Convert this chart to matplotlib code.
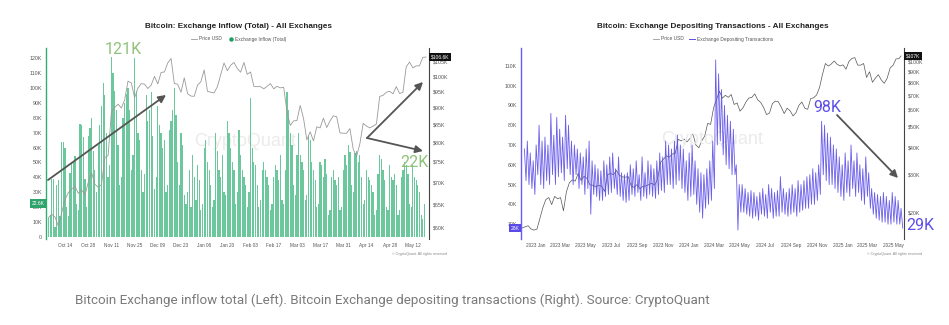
#!/usr/bin/env python3

# two CryptoQuant style panels: exchange inflow (left) and depositing tx (right)

import matplotlib.pyplot as plt
import matplotlib.ticker as mticker
import matplotlib.dates as mdates
import matplotlib.transforms as mtrans
from matplotlib.lines import Line2D
from matplotlib.patches import FancyArrowPatch
import pandas as pd

W, H = 949, 325

# left chart: daily exchange inflow (K BTC) starting 2024-10-04
inflow = [13, 15, 39, 39, 7, 35, 38, 14, 64, 64, 60, 20, 14, 43, 50, 50, 54, 22, 18, 76, 75, 67, 39, 20, 68,
          73, 80, 58, 45, 30, 62, 75,
          88, 103, 95, 70, 40, 48, 121,
          110, 98, 85, 62, 35, 40, 80,
          90, 96, 100, 85, 45, 55, 120,
          98, 70, 65, 45, 30, 42, 95,
          78, 85, 97, 68, 32, 40, 88,
          75, 70, 60, 65, 30, 35, 72,
          78, 85, 100, 82, 50, 35, 70,
          62, 28, 22, 30, 45, 20, 55,
          40, 25, 48, 38, 18, 22, 60,
          65, 50, 45, 35, 20, 25, 70,
          58, 45, 40, 55, 30, 28, 78,
          70, 60, 50, 45, 22, 30, 72,
          55, 45, 40, 35, 20, 30, 93,
          60, 50, 48, 35, 20, 25, 45,
          50, 45, 40, 35, 18, 22, 40,
          48, 45, 38, 55, 25, 22, 45,
          97, 85, 70, 62, 35, 28, 55,
          70, 55, 50, 45, 25, 28, 68,
          65, 50, 45, 38, 20, 22, 50,
          48, 40, 52, 42, 15, 18, 40,
          45, 38, 35, 40, 18, 20, 45,
          55, 48, 62, 57, 35, 30, 56,
          58, 50, 55, 40, 22, 25, 45,
          40, 38, 35, 30, 15, 18, 42,
          55, 52, 45, 38, 20, 18, 48,
          40, 38, 42, 35, 15, 18, 40,
          45, 50, 48, 42, 22, 20, 48,
          40, 38, 35, 30, 15, 12, 22]

# BTC price (K USD) every 2 days from 2024-10-04
price_left = [62.1, 62.8, 62.2, 60.3, 63.2, 66.0, 67.6, 68.4, 69.0, 67.4, 68.2, 67.0, 69.9, 72.3,
              69.5, 68.8, 69.4, 76.0, 76.5, 88.7, 90.0, 91.0, 89.8, 92.3, 98.3, 97.7, 93.0, 96.0, 97.5,
              97.3, 95.9, 97.0, 99.9, 97.4, 101.2, 101.4, 104.5, 106.1, 97.5, 97.3, 94.7, 99.4, 94.2, 93.5, 93.4,
              97.0, 98.1, 102.1, 95.0, 94.7, 94.5, 96.5, 100.5, 104.5, 101.8, 103.7, 104.7, 102.6, 101.3, 104.7,
              100.6, 101.4, 96.6, 96.5, 96.5, 95.8, 96.6, 97.5, 95.8, 96.6, 96.1, 96.3, 88.7, 84.7,
              86.0, 86.1, 90.6, 86.7, 80.7, 82.9, 80.4, 84.3, 84.0, 86.8, 84.1, 86.0, 87.5, 87.2, 82.6, 82.5,
              82.5, 83.8, 78.2, 76.3, 79.6, 85.3, 84.5, 84.0, 84.5, 85.1, 93.4, 93.7, 94.7, 95.0, 94.2,
              96.5, 94.3, 94.7, 103.2, 104.8, 102.8, 103.5, 103.5, 106.5, 106.6]

# right chart: depositing transactions (K), weekday peak / weekend low, weeks from 2022-12-04
tx_high = [68, 72, 66, 62,
           70, 80, 72, 74, 70, 86, 75, 84, 78, 74, 85, 80, 72,
           70, 68, 66, 64, 68, 72, 62, 60, 58, 57, 62, 60, 64,
           66, 58, 64, 56, 55, 56, 60, 58, 62, 55, 64, 56, 62,
           60, 58, 62, 66, 64, 72, 70, 68, 72, 75, 70, 68, 62, 66,
           70, 62, 58, 56, 55, 58, 62, 72, 113, 106, 98, 90, 85,
           82, 78, 60, 50, 50, 48, 46, 47, 46, 44, 46, 48, 45,
           50, 48, 46, 47, 54, 48, 46, 48, 50, 48, 52, 50, 52,
           54, 55, 58, 56, 60, 82, 80, 76, 74, 70, 68, 64, 60,
           66, 62, 70, 62, 66, 60, 58, 64, 56, 48, 46, 45, 44,
           46, 44, 42, 46, 44, 42, 38]
tx_low = [52, 50, 48, 45,
          55, 50, 48, 52, 50, 55, 50, 54, 56, 52, 58, 55, 50,
          55, 48, 50, 45, 48, 35, 45, 44, 42, 42, 44, 45, 46,
          48, 45, 44, 42, 41, 42, 45, 44, 46, 42, 44, 43, 45,
          44, 43, 45, 47, 46, 50, 50, 48, 50, 52, 48, 46, 42, 44,
          45, 40, 36, 33, 38, 40, 42, 48, 70, 72, 65, 60, 58,
          55, 55, 27, 36, 36, 35, 34, 33, 34, 32, 35, 34, 33,
          36, 33, 34, 34, 36, 35, 34, 35, 36, 34, 36, 37, 38,
          38, 40, 40, 42, 45, 55, 52, 50, 50, 48, 46, 44, 42,
          46, 44, 48, 44, 46, 42, 40, 44, 38, 35, 33, 32, 31,
          31, 30, 30, 31, 30, 30, 28]

# weekly BTC price (K USD) from 2022-12-01
price_right = [17.0, 17.2, 17.4, 16.8, 16.6,
               16.8, 18.8, 21.1, 23.0, 23.5, 21.8, 23.8, 23.2, 23.5, 20.4, 25.0, 27.5, 28.4,
               28.0, 30.4, 28.2, 29.5, 28.8, 26.9, 26.8, 26.4, 26.8, 26.5, 25.1, 30.0, 30.4,
               30.0, 31.4, 29.8, 29.3, 29.2, 29.4, 26.6, 26.2, 27.0, 25.8, 26.5, 26.6, 27.0,
               27.4, 26.8, 28.7, 34.2, 35.4, 36.7, 36.2, 37.4, 37.7, 43.8, 43.0, 43.9, 42.6,
               44.2, 46.3, 41.2, 40.0, 43.1, 45.3, 51.9, 51.3, 61.2, 66.9, 73.1, 67.9, 70.0,
               68.5, 70.6, 63.5, 64.5, 59.1, 61.2, 65.2, 68.0, 68.4, 71.1, 66.7, 64.9, 61.6,
               57.0, 57.9, 64.1, 65.8, 65.4, 61.7, 57.6, 61.0, 59.4, 56.2, 58.1, 62.9, 65.2,
               61.0, 60.3, 67.6, 68.2, 70.2, 76.0, 87.3, 98.3, 95.6, 97.8, 101.0, 97.5, 95.8,
               96.9, 92.5, 100.5, 103.7, 104.7, 96.6, 96.6, 98.3, 84.7, 90.0, 80.4, 84.1, 87.2,
               82.5, 79.6, 84.0, 93.7, 96.5, 103.2, 103.5]
price_right_last = 106.6

caption = ("Bitcoin Exchange inflow total (Left). Bitcoin Exchange depositing transactions (Right). "
           "Source: CryptoQuant")

plt.rcParams['font.family'] = ['Liberation Sans', 'DejaVu Sans']

GREEN = '#6cc79d'
PURPLE = '#5b4de8'
TICK = '#555555'


def box(l, t, r, b):
    return [l / W, 1 - b / H, (r - l) / W, (b - t) / H]


def fp(px, py):
    return (px / W, 1 - py / H)


def style(ax, axp, left_color):
    for s in ['top', 'bottom', 'right']:
        ax.spines[s].set_visible(False)
    ax.spines['left'].set_color(left_color)
    ax.spines['left'].set_linewidth(1.0)
    for s in ['top', 'bottom', 'left']:
        axp.spines[s].set_visible(False)
    axp.spines['right'].set_color('#444444')
    axp.spines['right'].set_linewidth(0.8)
    ax.tick_params(axis='y', length=0, labelsize=3.8, labelcolor=TICK, pad=3)
    ax.tick_params(axis='x', length=0, labelsize=3.4, labelcolor=TICK, pad=3)
    axp.tick_params(length=0, labelsize=3.8, labelcolor=TICK, pad=3, which='both')
    axp.yaxis.set_minor_locator(mticker.NullLocator())


def kfmt(v, pos):
    return '0' if v == 0 else f'{int(v)}K'


def dfmt(v, pos):
    return f'${int(v)}K'


fig = plt.figure(figsize=(W / 100, H / 100), dpi=100)

# ---------------- left panel
ax1 = fig.add_axes(box(46, 48, 429, 239))
in_dates = pd.date_range('2024-10-04', periods=len(inflow), freq='D')
ax1.bar(in_dates, inflow, width=0.75, color=GREEN, zorder=2)
ax1.set_ylim(-1.3, 126.7)
ax1.set_xlim(pd.Timestamp('2024-10-02 12:00'), pd.Timestamp('2025-05-21 18:00'))
ax1.set_yticks(range(0, 121, 10))
ax1.yaxis.set_major_formatter(mticker.FuncFormatter(kfmt))
ax1.set_xticks(pd.date_range('2024-10-14', '2025-05-12', freq='14D'))
ax1.xaxis.set_major_formatter(mdates.DateFormatter('%b %d'))
ax1.text(0.52, 0.51, 'CryptoQuant', transform=ax1.transAxes, fontsize=13, color='#ebebeb',
         ha='center', va='center', zorder=1)

ax1p = ax1.twinx()
p_dates = pd.date_range('2024-10-04', periods=len(price_left), freq='2D')
ax1p.plot(p_dates, price_left, color='#9a9a9a', lw=0.6)
ax1p.set_yscale('log')
ax1p.set_ylim(57.8, 109.9)
ax1p.set_yticks(range(60, 106, 5))
ax1p.yaxis.set_major_formatter(mticker.FuncFormatter(dfmt))
style(ax1, ax1p, '#2fae73')

tr = mtrans.blended_transform_factory(ax1.transAxes, ax1.transData)
ax1.text(-0.004, inflow[-1] + 0.6, '22.6K', transform=tr, ha='right', va='center', fontsize=3.6,
         color='white', bbox=dict(boxstyle='square,pad=0.35', fc='#2ea36b', ec='none'), clip_on=False)
trp = mtrans.blended_transform_factory(ax1p.transAxes, ax1p.transData)
ax1p.text(1.004, price_left[-1], '$106.6K', transform=trp, ha='left', va='center', fontsize=3.6,
          color='white', bbox=dict(boxstyle='square,pad=0.35', fc='#111111', ec='none'), clip_on=False)

fig.text(239 / W, 1 - 27 / H, 'Bitcoin: Exchange Inflow (Total) - All Exchanges', ha='center', va='center',
         fontsize=5.9, weight='bold', color='#222222')
h1 = [Line2D([], [], color='#999999', lw=0.6),
      Line2D([], [], marker='o', ls='', color='#1f9e63', ms=2.2)]
fig.legend(h1, ['Price USD', 'Exchange Inflow (Total)'], loc='center', bbox_to_anchor=fp(239, 39),
           ncol=2, frameon=False, fontsize=3.5, handlelength=1.2, columnspacing=1.2, handletextpad=0.4,
           labelcolor='#555555')
fig.text(447 / W, 1 - 254 / H, '\u00a9 CryptoQuant. All rights reserved', ha='right', va='center',
         fontsize=2.6, color='#888888')

# ---------------- right panel
ax2 = fig.add_axes(box(521, 48, 904, 239))
weeks = pd.date_range('2022-12-04', periods=len(tx_high), freq='7D')
tx_dates, tx_vals = [], []
for wk, hi, lo in zip(weeks, tx_high, tx_low):
    tx_dates += [wk + pd.Timedelta(days=2), wk + pd.Timedelta(days=6)]
    tx_vals += [hi, lo]
ax2.plot(tx_dates, tx_vals, color=PURPLE, lw=0.6, alpha=0.9, zorder=3)
ax2.set_ylim(22.5, 119)
ax2.set_xlim(pd.Timestamp('2022-11-28'), pd.Timestamp('2025-05-27'))
ax2.set_yticks(range(30, 111, 10))
ax2.yaxis.set_major_formatter(mticker.FuncFormatter(kfmt))
ax2.set_xticks(pd.date_range('2023-01-01', '2025-05-01', freq='2MS'))
ax2.xaxis.set_major_formatter(mdates.DateFormatter('%Y %b'))
ax2.text(0.50, 0.52, 'CryptoQuant', transform=ax2.transAxes, fontsize=13, color='#ebebeb',
         ha='center', va='center', zorder=1)

ax2p = ax2.twinx()
pr_dates = list(pd.date_range('2022-12-01', periods=len(price_right), freq='7D')) + [pd.Timestamp('2025-05-20')]
ax2p.plot(pr_dates, price_right + [price_right_last], color='#555555', lw=0.5)
ax2p.set_yscale('log')
ax2p.set_ylim(15.1, 116)
ax2p.set_yticks([20, 30, 40, 50, 60, 70, 80, 90, 100])
ax2p.yaxis.set_major_formatter(mticker.FuncFormatter(dfmt))
ax2.set_zorder(ax2p.get_zorder() + 1)
ax2.patch.set_visible(False)
style(ax2, ax2p, '#6a5cf0')

tr2 = mtrans.blended_transform_factory(ax2.transAxes, ax2.transData)
ax2.text(-0.004, tx_low[-1], '28K', transform=tr2, ha='right', va='center', fontsize=3.6,
         color='white', bbox=dict(boxstyle='square,pad=0.35', fc='#5a4be6', ec='none'), clip_on=False)
trp2 = mtrans.blended_transform_factory(ax2p.transAxes, ax2p.transData)
ax2p.text(1.004, price_right_last, '$107K', transform=trp2, ha='left', va='center', fontsize=3.6,
          color='white', bbox=dict(boxstyle='square,pad=0.35', fc='#111111', ec='none'), clip_on=False)

fig.text(713 / W, 1 - 27 / H, 'Bitcoin: Exchange Depositing Transactions - All Exchanges', ha='center',
         va='center', fontsize=5.9, weight='bold', color='#222222')
h2 = [Line2D([], [], color='#999999', lw=0.6), Line2D([], [], color=PURPLE, lw=0.7)]
fig.legend(h2, ['Price USD', 'Exchange Depositing Transactions'], loc='center', bbox_to_anchor=fp(713, 39),
           ncol=2, frameon=False, fontsize=3.5, handlelength=1.2, columnspacing=1.2, handletextpad=0.4,
           labelcolor='#555555')
fig.text(922 / W, 1 - 254 / H, '\u00a9 CryptoQuant. All rights reserved', ha='right', va='center',
         fontsize=2.6, color='#888888')

# ---------------- callouts
ann = dict(family=['Roboto', 'DejaVu Sans'], fontsize=11.5, ha='center', va='center')
fig.text(*fp(123, 49), '121K', color='#8fc27a', **ann)
fig.text(*fp(414, 163), '22K', color='#8fc27a', **ann)
fig.text(*fp(827, 108), '98K', color=PURPLE, **ann)
fig.text(*fp(920, 226), '29K', color=PURPLE, **ann)

arrow = dict(arrowstyle='-|>', color='#555555', lw=1.3, mutation_scale=11, shrinkA=0, shrinkB=0)
for start, end in [((48, 180), (166, 95)), ((367, 138), (423, 82)), ((367, 138), (423, 151)),
                   ((837, 115), (898, 178))]:
    fig.add_artist(FancyArrowPatch(fp(*start), fp(*end), transform=fig.transFigure, **arrow))

fig.text(75 / W, 1 - 300 / H, caption, ha='left', va='center', fontsize=9.6, color='#7a7a7a',
         family=['Roboto', 'DejaVu Sans'])

plt.savefig('out.png', dpi=100)
